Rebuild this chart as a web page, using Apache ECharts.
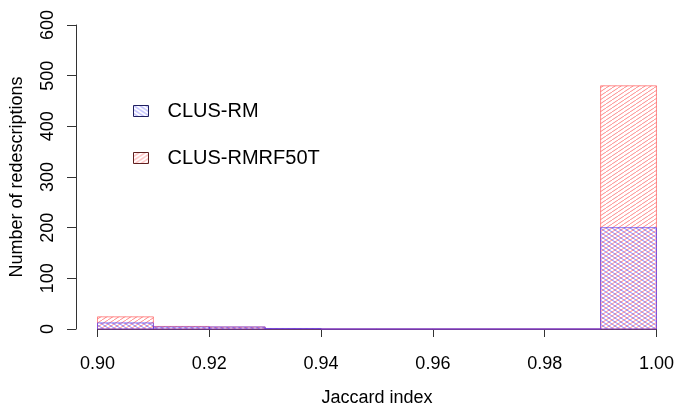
<!DOCTYPE html>
<html>
<head>
<meta charset="utf-8">
<script src="https://cdn.jsdelivr.net/npm/echarts@6/dist/echarts.min.js"></script>
<style>
  html, body { margin: 0; padding: 0; background: #fff; }
  #chart { width: 677px; height: 412px; }
</style>
</head>
<body>
<div id="chart"></div>
<script>
// bin edges (width 0.01) and counts per bin
const binStarts = [0.90, 0.91, 0.92, 0.93, 0.94, 0.95, 0.96, 0.97, 0.98, 0.99]
const binWidth = 0.01
const clusRM = [12, 4, 4, 1, 0, 0, 0, 0, 0, 200]
const clusRMRF50T = [24, 5, 4, 1, 0, 0, 0, 0, 0, 480]
const xTicks = [0.90, 0.92, 0.94, 0.96, 0.98, 1.00]
const yTicks = [0, 100, 200, 300, 400, 500, 600]

// diagonal hatch tiles, like R's density/angle fill
function hatch(color, flip) {
  const c = document.createElement('canvas')
  const w = 6, h = 4
  c.width = w
  c.height = h
  const ctx = c.getContext('2d')
  ctx.strokeStyle = color
  ctx.lineWidth = 1
  ctx.beginPath()
  for (let k = -1; k <= 1; k++) {
    if (!flip) {
      ctx.moveTo(k * w, h)
      ctx.lineTo(k * w + w, 0)
    } else {
      ctx.moveTo(k * w, 0)
      ctx.lineTo(k * w + w, h)
    }
  }
  ctx.stroke()
  return { image: c, repeat: 'repeat' }
}

const redFill = hatch('rgba(255,60,60,0.6)', false)
const blueFill = hatch('rgba(40,40,255,0.55)', true)
const redBorder = 'rgba(255,70,70,0.6)'
const blueBorder = 'rgba(90,60,240,0.7)'

function toBins(counts) {
  return binStarts.map((s, i) => [s, s + binWidth, counts[i]])
}

function binRenderer(fill, stroke) {
  return function (params, api) {
    const p0 = api.coord([api.value(0), api.value(2)])
    const p1 = api.coord([api.value(1), 0])
    return {
      type: 'rect',
      shape: { x: p0[0], y: p0[1], width: p1[0] - p0[0], height: p1[1] - p0[1] },
      style: { fill: fill, stroke: stroke, lineWidth: 1 }
    }
  }
}

const font = 'Liberation Sans'
const chart = echarts.init(document.getElementById('chart'), null, { renderer: 'canvas' })

chart.setOption({
  animation: false,
  backgroundColor: '#fff',
  grid: { left: 97.5, right: 20, top: 25, bottom: 82 },
  legend: {
    orient: 'vertical',
    left: 128,
    top: 96,
    itemWidth: 15,
    itemHeight: 11,
    itemGap: 27,
    selectedMode: false,
    textStyle: { fontFamily: font, fontSize: 20, color: '#000', padding: [0, 0, 0, 14] },
    data: [
      { name: 'CLUS-RM', icon: 'rect', itemStyle: { color: blueFill, borderColor: '#202060', borderWidth: 1 } },
      { name: 'CLUS-RMRF50T', icon: 'rect', itemStyle: { color: redFill, borderColor: '#602020', borderWidth: 1 } }
    ]
  },
  xAxis: {
    type: 'value',
    min: 0.9,
    max: 1.0,
    interval: 0.02,
    offset: 13,
    name: 'Jaccard index',
    nameLocation: 'middle',
    nameGap: 47,
    nameTextStyle: { fontFamily: font, fontSize: 18, color: '#000' },
    axisLine: { show: true, lineStyle: { color: '#333', width: 1 } },
    axisTick: { show: true, length: 8, lineStyle: { color: '#333' } },
    axisLabel: {
      margin: 13,
      fontFamily: font,
      fontSize: 18,
      color: '#000',
      formatter: v => v.toFixed(2)
    },
    splitLine: { show: false }
  },
  yAxis: {
    type: 'value',
    min: yTicks[0],
    max: yTicks[yTicks.length - 1],
    interval: 100,
    offset: 21.5,
    name: 'Number of redescriptions',
    nameLocation: 'middle',
    nameGap: 50,
    nameTextStyle: { fontFamily: font, fontSize: 18, color: '#000' },
    axisLine: { show: true, lineStyle: { color: '#333', width: 1 } },
    axisTick: { show: true, length: 9, lineStyle: { color: '#333' } },
    axisLabel: { rotate: 90, margin: 19, fontFamily: font, fontSize: 18, color: '#000' },
    splitLine: { show: false }
  },
  series: [
    {
      name: 'CLUS-RMRF50T',
      type: 'custom',
      renderItem: binRenderer(redFill, redBorder),
      itemStyle: { color: redFill },
      encode: { x: [0, 1], y: 2 },
      data: toBins(clusRMRF50T)
    },
    {
      name: 'CLUS-RM',
      type: 'custom',
      renderItem: binRenderer(blueFill, blueBorder),
      itemStyle: { color: blueFill },
      encode: { x: [0, 1], y: 2 },
      data: toBins(clusRM)
    }
  ]
})
</script>
</body>
</html>
